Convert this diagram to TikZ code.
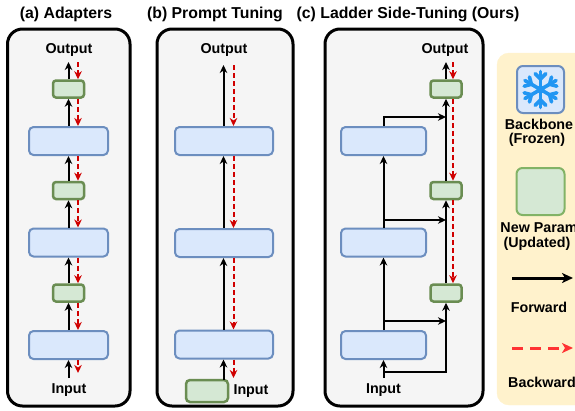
\documentclass[tikz,border=0pt]{standalone}
\usepackage{fontspec}
\setmainfont{Liberation Sans}
\usetikzlibrary{arrows.meta}
\definecolor{panelgray}{HTML}{F5F5F5}
\definecolor{bluefill}{HTML}{DAE8FC}
\definecolor{blueborder}{HTML}{6C8EBF}
\definecolor{greenfill}{HTML}{D5E8D4}
\definecolor{greenborder}{HTML}{6A8D52}
\definecolor{legendgreen}{HTML}{82B366}
\definecolor{redline}{HTML}{D00000}
\definecolor{legendred}{HTML}{FF3333}
\definecolor{legendfill}{HTML}{FFF2CC}
\definecolor{snow}{HTML}{2196F3}
\tikzset{
  frame/.style={draw=black, line width=3pt, fill=panelgray, rounded corners=15pt},
  bluebox/.style={draw=blueborder, fill=bluefill, line width=2pt, rounded corners=4.5pt, minimum height=28pt, inner sep=0pt},
  greenbox/.style={draw=greenborder, fill=greenfill, line width=2.5pt, rounded corners=3pt, minimum width=31pt, minimum height=17pt, inner sep=0pt},
  lbl/.style={font=\bfseries\fontsize{14.3}{17}\selectfont, inner sep=0pt},
  ttl/.style={font=\bfseries\fontsize{15.8}{18}\selectfont, inner sep=0pt},
  fwd/.style={draw=black, line width=2pt, -{Stealth[length=8pt,width=7.5pt,inset=2.5pt]}},
  bwd/.style={draw=redline, line width=2pt, dash pattern=on 5pt off 3pt, -{Stealth[length=8pt,width=7.5pt,inset=2.5pt]}},
}
\begin{document}
\begin{tikzpicture}[x=1pt,y=-1pt]
\useasboundingbox (0,0) rectangle (575,410);
\clip (0,0) rectangle (575,410);

% ---------- titles ----------
\node[ttl] (ta) at (66,14) {(a) Adapters};
\node[ttl] (tb) at (215,14) {(b) Prompt Tuning};
\node[ttl] (tc) at (408,14) {(c) Ladder Side-Tuning (Ours)};

% ---------- frames ----------
\draw[frame] (7.5,29) rectangle (130,406);
\draw[frame] (157,29) rectangle (293,406);
\draw[frame] (325,29) rectangle (483,406);

% ---------- panel (a) ----------
\node[lbl] (aout) at (69,49.5) {Output};
\node[lbl] (ain) at (69,390) {Input};
\node[greenbox] (ag1) at (68.5,89) {};
\node[bluebox, minimum width=79pt] (ab1) at (68.5,141) {};
\node[greenbox] (ag2) at (68.5,190.5) {};
\node[bluebox, minimum width=79pt] (ab2) at (68.5,242.5) {};
\node[greenbox] (ag3) at (68.5,293) {};
\node[bluebox, minimum width=79pt] (ab3) at (68.5,345) {};
\coordinate (aoutf) at (68.5,62);
\coordinate (aoutb) at (78,62);
\coordinate (ainf) at (68.5,378);
\coordinate (ainb) at (78,373);
\draw[fwd] (ag1.north) -- (aoutf);
\draw[fwd] (ab1.north) -- (ag1.south);
\draw[fwd] (ag2.north) -- (ab1.south);
\draw[fwd] (ab2.north) -- (ag2.south);
\draw[fwd] (ag3.north) -- (ab2.south);
\draw[fwd] (ab3.north) -- (ag3.south);
\draw[fwd] (ainf) -- (ab3.south);
\draw[bwd] (aoutb) -- ([xshift=9.5pt]ag1.north);
\draw[bwd] ([xshift=9.5pt]ag1.south) -- ([xshift=9.5pt]ab1.north);
\draw[bwd] ([xshift=9.5pt]ab1.south) -- ([xshift=9.5pt]ag2.north);
\draw[bwd] ([xshift=9.5pt]ag2.south) -- ([xshift=9.5pt]ab2.north);
\draw[bwd] ([xshift=9.5pt]ab2.south) -- ([xshift=9.5pt]ag3.north);
\draw[bwd] ([xshift=9.5pt]ag3.south) -- ([xshift=9.5pt]ab3.north);
\draw[bwd] ([xshift=9.5pt]ab3.south) -- (ainb);

% ---------- panel (b) ----------
\node[lbl] (bout) at (224,49.5) {Output};
\node[bluebox, minimum width=98pt] (bb1) at (224,141) {};
\node[bluebox, minimum width=98pt] (bb2) at (224,243) {};
\node[bluebox, minimum width=98pt] (bb3) at (224,344.5) {};
\node[greenbox, minimum width=42pt, minimum height=22pt, rounded corners=4pt] (bp) at (207,391) {};
\node[lbl] (bin) at (251,391) {Input};
\coordinate (boutf) at (223.5,65);
\coordinate (boutb) at (233.5,65);
\coordinate (binf) at (223.5,380);
\coordinate (binb) at (233.5,378);
\draw[fwd] ([xshift=-0.5pt]bb1.north) -- (boutf);
\draw[fwd] ([xshift=-0.5pt]bb2.north) -- ([xshift=-0.5pt]bb1.south);
\draw[fwd] ([xshift=-0.5pt]bb3.north) -- ([xshift=-0.5pt]bb2.south);
\draw[fwd] (binf) -- ([xshift=-0.5pt]bb3.south);
\draw[bwd] (boutb) -- ([xshift=9.5pt]bb1.north);
\draw[bwd] ([xshift=9.5pt]bb1.south) -- ([xshift=9.5pt]bb2.north);
\draw[bwd] ([xshift=9.5pt]bb2.south) -- ([xshift=9.5pt]bb3.north);
\draw[bwd] ([xshift=9.5pt]bb3.south) -- (binb);

% ---------- panel (c) ----------
\node[lbl] (cout) at (445,49.5) {Output};
\node[lbl] (cin) at (383.5,390) {Input};
\node[bluebox, minimum width=85pt] (cb1) at (383.5,141) {};
\node[bluebox, minimum width=85pt] (cb2) at (383.5,242.5) {};
\node[bluebox, minimum width=85pt] (cb3) at (383.5,345) {};
\node[greenbox] (cg1) at (446,89) {};
\node[greenbox] (cg2) at (446,190.5) {};
\node[greenbox] (cg3) at (446,293) {};
\coordinate (coutf) at (446,62);
\coordinate (coutb) at (453,62);
\coordinate (cinf) at (383.5,378);
\coordinate (cj0) at (383.5,372);
\coordinate (cj1) at (383.5,117);
\coordinate (cj2) at (383.5,220);
\coordinate (cj3) at (383.5,321);
\coordinate (cm1) at (446,117);
\coordinate (cm2) at (446,220);
\coordinate (cm3) at (446,321);
\coordinate (cm0) at (446,372);
% main side line
\draw[fwd] (cg1.north) -- (coutf);
\draw[fwd] (cg2.north) -- (cg1.south);
\draw[fwd] (cg3.north) -- (cg2.south);
\draw[fwd] (cj0) -- (cm0) -- (cg3.south);
% backbone
\draw[fwd] (cinf) -- (cb3.south);
\draw[fwd] (cb3.north) -- (cb2.south);
\draw[fwd] (cb2.north) -- (cb1.south);
% ladder branches
\draw[fwd] (cb1.north) -- (cj1) -- (cm1);
\draw[fwd] (cj2) -- (cm2);
\draw[fwd] (cj3) -- (cm3);
% backward
\draw[bwd] (coutb) -- ([xshift=7pt]cg1.north);
\draw[bwd] ([xshift=7pt]cg1.south) -- ([xshift=7pt]cg2.north);
\draw[bwd] ([xshift=7pt]cg2.south) -- ([xshift=7pt]cg3.north);

% ---------- legend ----------
\draw[fill=legendfill, draw=legendfill, rounded corners=12pt] (497,53) rectangle (610,405);
\node[draw=blueborder, fill=bluefill, line width=2pt, rounded corners=6pt, minimum width=47pt, minimum height=47pt, inner sep=0pt] (lfrozen) at (540.5,89.5) {};
\begin{scope}[shift={(540.5,89.5)}, line width=3.6pt, line cap=round]
  \foreach \a in {90,150,210,270,330,30} {
    \draw[snow] (0,0) -- (\a:18);
    \draw[snow] (\a:10.5) -- ++(\a+45:7.5);
    \draw[snow] (\a:10.5) -- ++(\a-45:7.5);
  }
  \fill[snow] (0,0) circle (4);
\end{scope}
\node[lbl] (lbb) at (539,124.5) {Backbone};
\node[lbl] (lfz) at (537,139.5) {(Frozen)};
\node[draw=legendgreen, fill=greenfill, line width=2pt, rounded corners=6pt, minimum width=48pt, minimum height=47pt, inner sep=0pt] (lnew) at (540.5,191.5) {};
\node[lbl] (lnp) at (543,228) {New Params};
\node[lbl] (lup) at (537,243.5) {(Updated)};
\coordinate (lf1) at (512,278);
\coordinate (lf2) at (573,278);
\draw[draw=black, line width=3pt, -{Stealth[length=11pt,width=10pt,inset=3pt]}] (lf1) -- (lf2);
\node[lbl] (lfw) at (539,307) {Forward};
\coordinate (lb1) at (512,348);
\coordinate (lb2) at (573,348);
\draw[draw=legendred, line width=3pt, dash pattern=on 11pt off 7pt, -{Stealth[length=11pt,width=10pt,inset=3pt]}] (lb1) -- (lb2);
\node[lbl] (lbw) at (542,382) {Backward};
\end{tikzpicture}
\end{document}
